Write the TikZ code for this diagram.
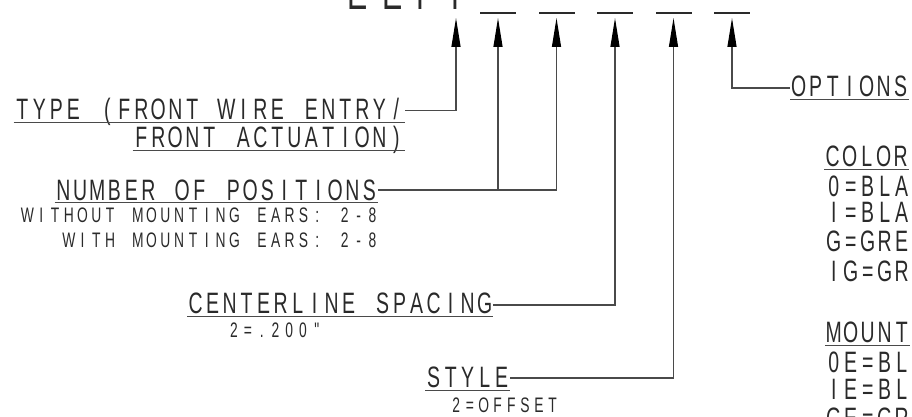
\documentclass[tikz,border=0pt]{standalone}
\usepackage{fontspec}
\usetikzlibrary{arrows.meta}
\newfontfamily\cadfont{Liberation Sans}[FakeStretch=0.66]
\definecolor{ink}{HTML}{2A2A2A}
\definecolor{wirec}{HTML}{4A4A4A}

% fixed-pitch lettering, one cell per character (~ for a space)
\def\cadstop{\cadstop}
\def\cadloop#1{\ifx#1\cadstop\else\makebox[\cadpitch]{#1}\expandafter\cadloop\fi}
\newcommand\cadtext[1]{\cadloop#1\cadstop}

\tikzset{
  huge/.style={font=\cadfont\fontsize{46}{50}\selectfont\def\cadpitch{34.5pt},text=ink,inner sep=0pt},
  big/.style={font=\cadfont\fontsize{29.5}{32}\selectfont\def\cadpitch{17pt},text=ink,inner sep=0pt},
  small/.style={font=\cadfont\fontsize{21}{23}\selectfont\def\cadpitch{13.8pt},text=ink,inner sep=0pt},
  wire/.style={draw=wirec,line width=1.2pt},
  uline/.style={draw=wirec,line width=1pt},
  slot/.style={fill=ink,minimum width=36pt,minimum height=2.8pt,inner sep=0pt}
}

\begin{document}
\begin{tikzpicture}[x=1pt,y=1pt,>={Triangle[length=29pt,width=9pt,color=black]}]
\useasboundingbox (0,0) rectangle (912,417);
\clip (0,0) rectangle (912,417);

% part number and blanks
\node[huge,anchor=base west] (pn) at (340.25,407) {\cadtext{EEPF}};
\coordinate (t1) at (456,399);
\foreach \x [count=\i from 2] in {498,556.5,615,673.5,732}{
  \node[slot] (d\i) at (\x,404) {};
  \coordinate (t\i) at (\x,399);
}

% left labels
\node[big,anchor=base east] (typ1) at (405,297) {\cadtext{TYPE~(FRONT~WIRE~ENTRY/}};
\node[big,anchor=base east] (typ2) at (405,269) {\cadtext{FRONT~ACTUATION)}};
\node[big,anchor=base east] (num) at (378,216.5) {\cadtext{NUMBER~OF~POSITIONS}};
\node[small,anchor=base east] (wo) at (379.5,194) {\cadtext{WITHOUT~MOUNTING~EARS:~2-8}};
\node[small,anchor=base east] (wi) at (379.5,169) {\cadtext{WITH~MOUNTING~EARS:~2-8}};
\node[big,anchor=base west] (cl) at (187,103) {\cadtext{CENTERLINE~SPACING}};
\node[small,anchor=base west] (sp) at (227,79) {\cadtext{2=.200"}};
\node[big,anchor=base west] (sty) at (425,29) {\cadtext{STYLE}};
\node[small,anchor=base west] (off) at (449,4) {\cadtext{2=OFFSET}};

% right labels
\node[big,anchor=base west] (opt) at (790,320) {\cadtext{OPTIONS}};
\node[big,anchor=base west] (col) at (824,250) {\cadtext{COLOR}};
\node[big,anchor=base west] (c1) at (825,220) {\cadtext{0=BLA}};
\node[big,anchor=base west] (c2) at (825,194) {\cadtext{I=BLA}};
\node[big,anchor=base west] (c3) at (825,165) {\cadtext{G=GRE}};
\node[big,anchor=base west] (c4) at (825,135) {\cadtext{IG=GR}};
\node[big,anchor=base west] (mnt) at (825,74) {\cadtext{MOUNT}};
\node[big,anchor=base west] (m1) at (825,44) {\cadtext{0E=BL}};
\node[big,anchor=base west] (m2) at (825,17) {\cadtext{IE=BL}};
\node[big,anchor=base west] (m3) at (825,-12) {\cadtext{GE=GR}};

% underlines
\foreach \n in {typ1,typ2,num,cl,sty,opt,col,mnt}
  \draw[uline] ([yshift=-2.5pt]\n.base west) -- ([yshift=-2.5pt]\n.base east);

% leaders
\coordinate (nummid) at ([yshift=10.5pt]num.base east);
\draw[wire,->] ([yshift=9.5pt]typ1.base east) -| (t1);
\draw[wire,->] (nummid) -| (t3);
\draw[wire,->] (t2 |- nummid) -- (t2);
\draw[wire,->] ([yshift=9pt]cl.base east) -| (t4);
\draw[wire,->] ([yshift=10pt]sty.base east) -| (t5);
\draw[wire,<-] (t6) |- ([yshift=9pt]opt.base west);
\end{tikzpicture}
\end{document}
